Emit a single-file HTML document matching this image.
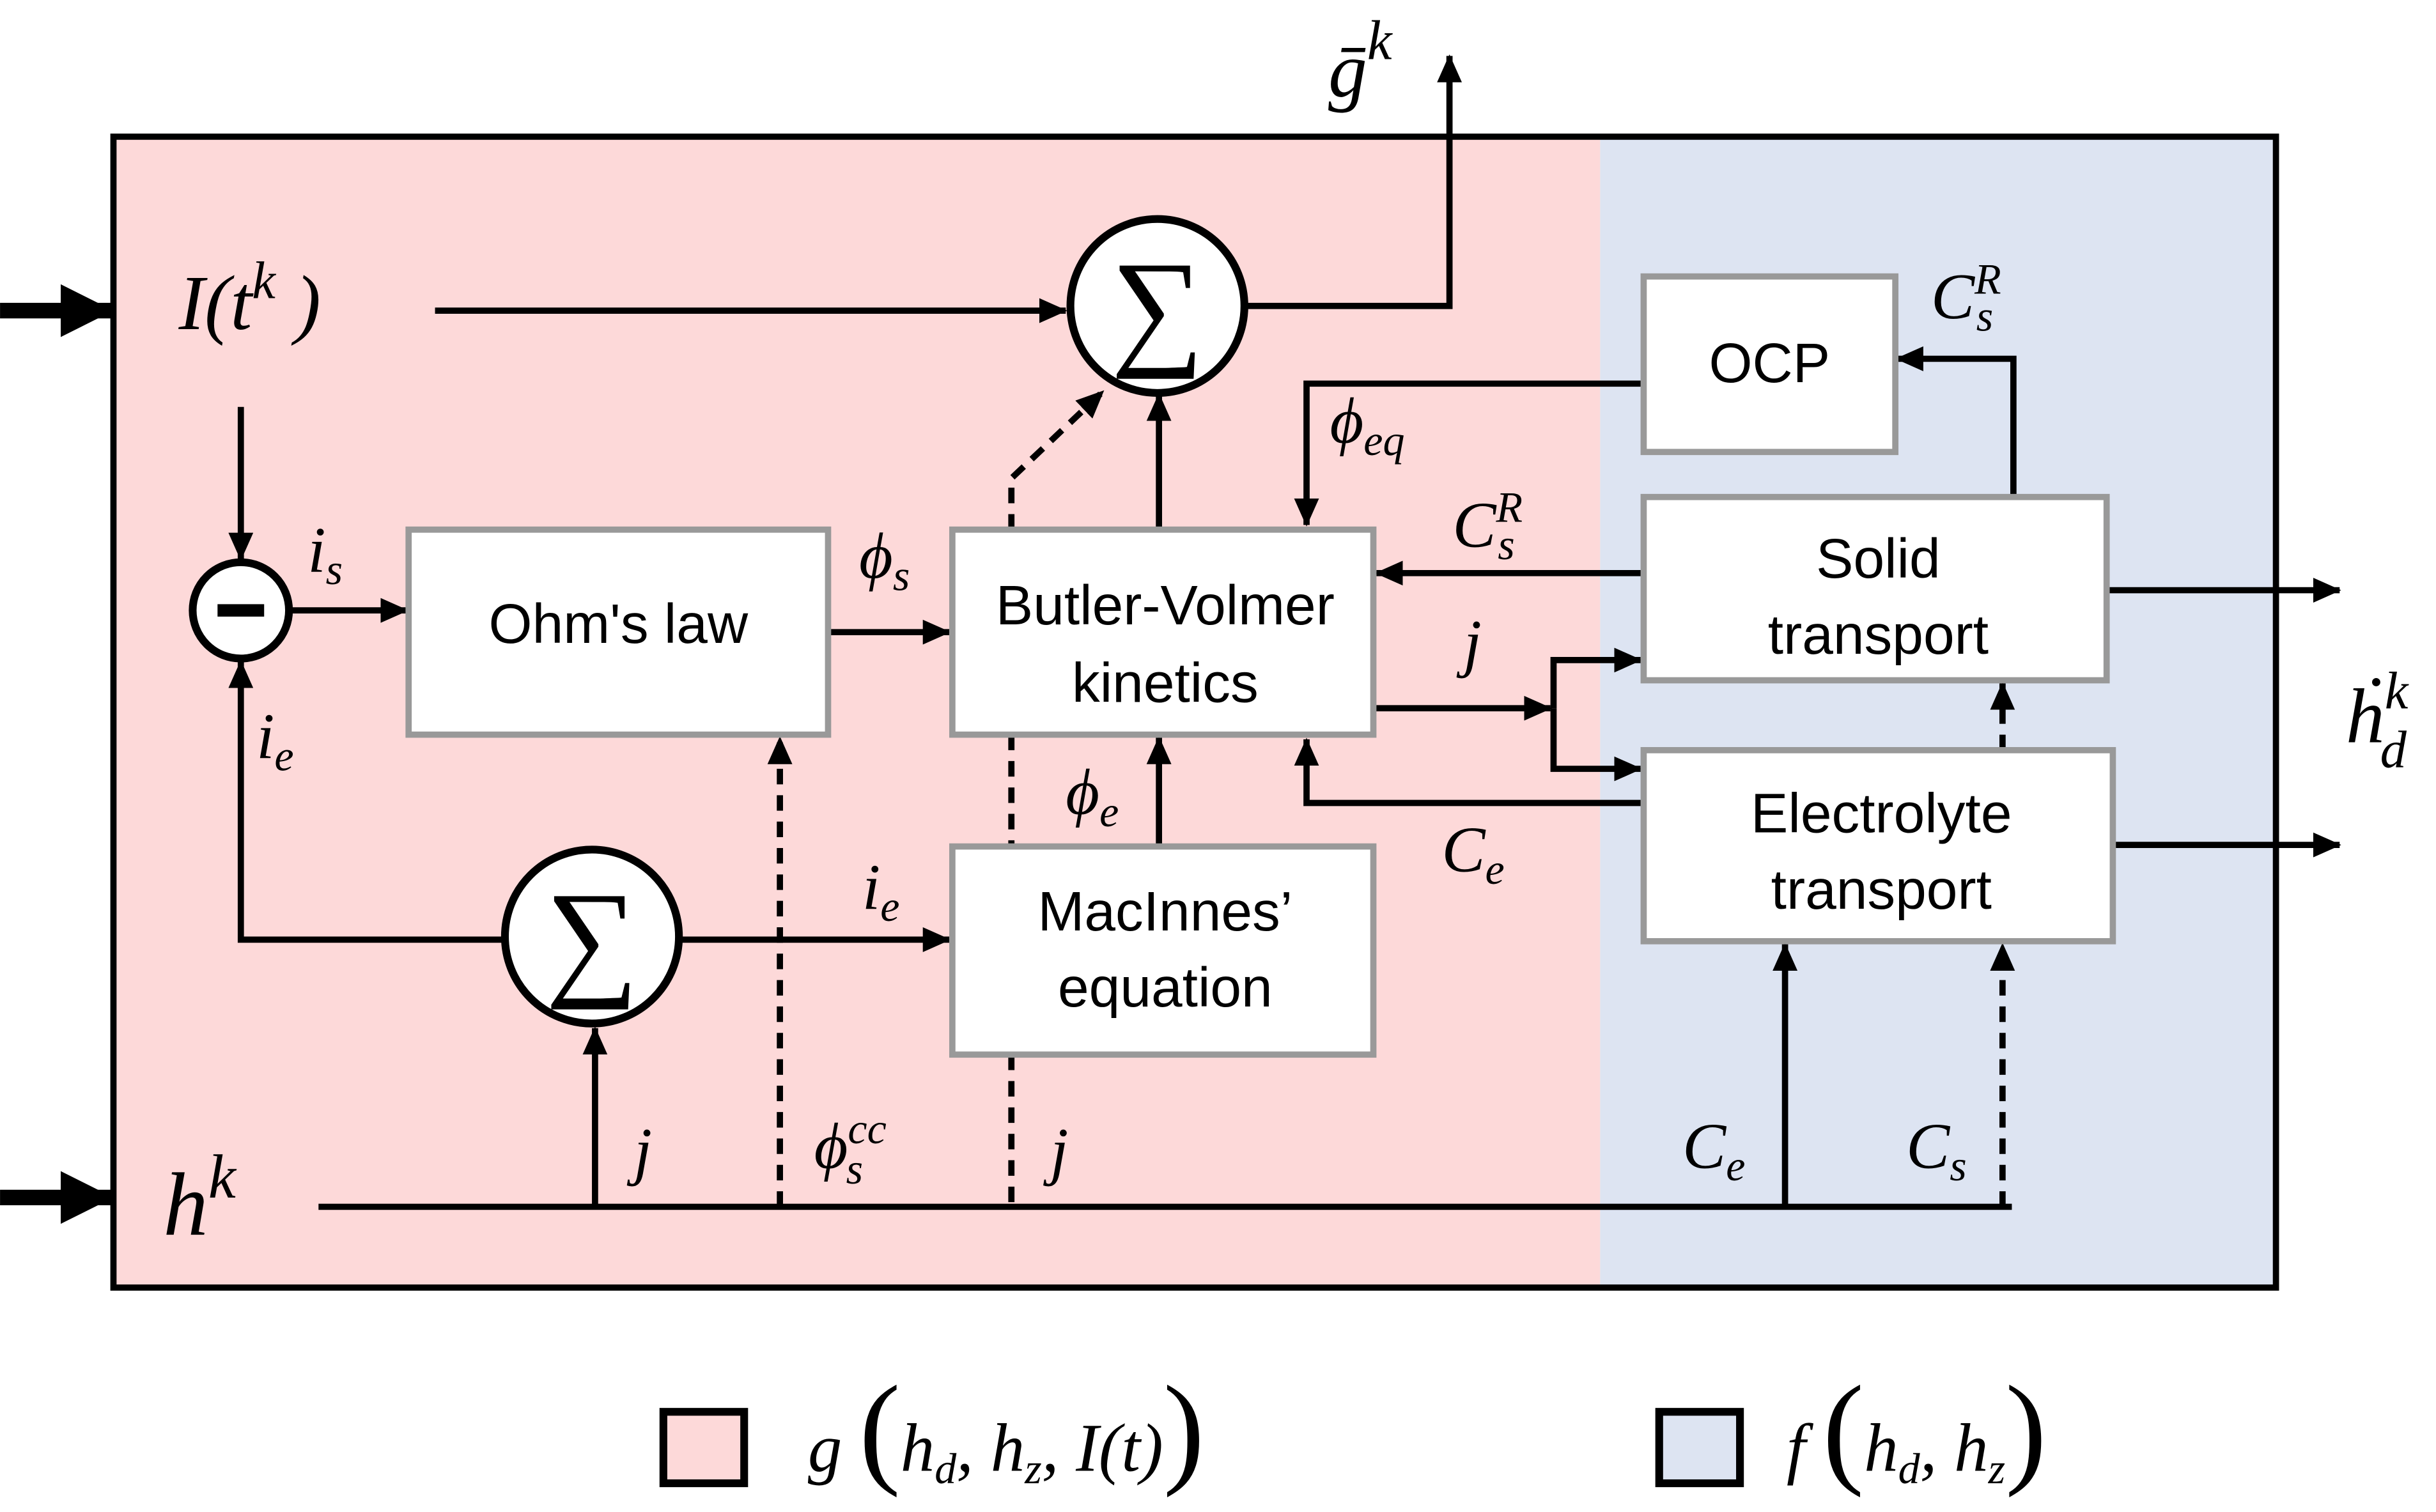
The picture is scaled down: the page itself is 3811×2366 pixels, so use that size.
<!DOCTYPE html>
<html><head><meta charset="utf-8"><style>
html,body{margin:0;padding:0;background:#fff;}
svg{display:block;}
.s{font-family:"Liberation Sans",sans-serif;font-size:36px;fill:#000;text-anchor:middle;}
.m{font-family:"Liberation Serif",serif;font-style:italic;font-size:42px;fill:#000;}
.sub{font-size:28px;}
</style></head><body>
<svg width="3811" height="2366" viewBox="0 0 1568 973.5" xmlns="http://www.w3.org/2000/svg">
<defs>
<marker id="A" markerWidth="18" markerHeight="16" refX="17" refY="8" orient="auto" markerUnits="userSpaceOnUse"><path d="M0,0 L18,8 L0,16 z" fill="#000"/></marker>
<marker id="B" markerWidth="34" markerHeight="34" refX="33" refY="17" orient="auto" markerUnits="userSpaceOnUse"><path d="M0,0 L34,17 L0,34 z" fill="#000"/></marker>
</defs>
<rect x="73" y="88" width="957" height="741" fill="#fdd9d9"/>
<rect x="1030" y="88" width="435" height="741" fill="#dde4f2"/>
<rect x="73" y="88" width="1392" height="741" fill="none" stroke="#000" stroke-width="4"/>
<line x1="0" y1="200" x2="72" y2="200" stroke="#000" stroke-width="10" marker-end="url(#B)"/>
<line x1="0" y1="771" x2="72" y2="771" stroke="#000" stroke-width="10" marker-end="url(#B)"/>
<g stroke="#000" stroke-width="4" fill="none">
<line x1="280" y1="200" x2="686" y2="200" marker-end="url(#A)"/>
<polyline points="802,197 933,197 933,36" marker-end="url(#A)"/>
<line x1="155" y1="262" x2="155" y2="360" marker-end="url(#A)"/>
<line x1="187" y1="393" x2="262" y2="393" marker-end="url(#A)"/>
<line x1="533" y1="407" x2="611" y2="407" marker-end="url(#A)"/>
<polyline points="324,605 155,605 155,426" marker-end="url(#A)"/>
<line x1="438" y1="605" x2="611" y2="605" marker-end="url(#A)"/>
<line x1="383" y1="777" x2="383" y2="662" marker-end="url(#A)"/>
<line x1="746" y1="341" x2="746" y2="254" marker-end="url(#A)"/>
<polyline points="651,341 651,308 710,252" stroke-dasharray="10,7" marker-end="url(#A)"/>
<line x1="651" y1="473" x2="651" y2="545" stroke-dasharray="10,7"/>
<line x1="651" y1="679" x2="651" y2="777" stroke-dasharray="10,7"/>
<line x1="746" y1="545" x2="746" y2="475" marker-end="url(#A)"/>
<line x1="502" y1="777" x2="502" y2="475" stroke-dasharray="10,7" marker-end="url(#A)"/>
<polyline points="1058,247 841,247 841,338" marker-end="url(#A)"/>
<line x1="1058" y1="369" x2="886" y2="369" marker-end="url(#A)"/>
<polyline points="1000,456 1000,425 1056,425" marker-end="url(#A)"/>
<line x1="884" y1="456" x2="998" y2="456" marker-end="url(#A)"/>
<polyline points="1000,456 1000,495 1056,495" marker-end="url(#A)"/>
<polyline points="1060,517 841,517 841,476" marker-end="url(#A)"/>
<polyline points="1296,320 1296,231 1221,231" marker-end="url(#A)"/>
<line x1="1356" y1="380" x2="1506" y2="380" marker-end="url(#A)"/>
<line x1="1360" y1="544" x2="1506" y2="544" marker-end="url(#A)"/>
<line x1="1289" y1="483" x2="1289" y2="440" stroke-dasharray="10,7" marker-end="url(#A)"/>
<line x1="1289" y1="777" x2="1289" y2="608" stroke-dasharray="10,7" marker-end="url(#A)"/>
<line x1="1149" y1="777" x2="1149" y2="608" marker-end="url(#A)"/>
<line x1="205" y1="777" x2="1295" y2="777"/>
</g>
<circle cx="745" cy="197" r="56" fill="#fff" stroke="#000" stroke-width="5"/>
<text x="745" y="226" class="s" style="font-family:'Liberation Serif',serif;font-size:84px">∑</text>
<circle cx="381" cy="603" r="56" fill="#fff" stroke="#000" stroke-width="5"/>
<text x="381" y="632" class="s" style="font-family:'Liberation Serif',serif;font-size:84px">∑</text>
<circle cx="155" cy="393" r="31" fill="#fff" stroke="#000" stroke-width="5"/>
<rect x="140" y="389" width="30" height="8" fill="#000"/>
<g fill="#fff" stroke="#999" stroke-width="4">
<rect x="1058" y="178" width="162" height="113"/>
<rect x="1058" y="320" width="298" height="118"/>
<rect x="1058" y="483" width="302" height="123"/>
<rect x="613" y="341" width="271" height="132"/>
<rect x="263" y="341" width="270" height="132"/>
<rect x="613" y="545" width="271" height="134"/>
</g>
<text x="1139" y="246" class="s">OCP</text>
<text x="1209" y="372" class="s">Solid</text>
<text x="1209" y="421" class="s">transport</text>
<text x="1211" y="536" class="s">Electrolyte</text>
<text x="1211" y="585" class="s">transport</text>
<text x="750" y="402" class="s">Butler-Volmer</text>
<text x="750" y="452" class="s">kinetics</text>
<text x="398" y="414" class="s">Ohm's law</text>
<text x="750" y="599" class="s">MacInnes’</text>
<text x="750" y="648" class="s">equation</text>
<text x="115" y="212" class="m" style="font-size:50px">I(t<tspan dy="-20" class="sub" style="font-size:34px">k</tspan><tspan dy="20"> )</tspan></text>
<text x="855" y="62" class="m" style="font-size:50px">ḡ<tspan dy="-24" style="font-size:36px">k</tspan></text>
<text x="105" y="795" class="m" style="font-size:58px">h<tspan dy="-24" style="font-size:40px">k</tspan></text>
<text x="198" y="368" class="m">i<tspan dy="8" class="sub">s</tspan></text>
<text x="165" y="488" class="m">i<tspan dy="8" class="sub">e</tspan></text>
<text x="553" y="372" class="m">ϕ<tspan dy="8" class="sub">s</tspan></text>
<text x="555" y="585" class="m">i<tspan dy="8" class="sub">e</tspan></text>
<text x="686" y="524" class="m">ϕ<tspan dy="8" class="sub">e</tspan></text>
<text x="856" y="285" class="m">ϕ<tspan dy="8" class="sub">eq</tspan></text>
<text x="935" y="352" class="m">C<tspan dy="-16" class="sub">R</tspan><tspan dx="-16" dy="24" class="sub">s</tspan></text>
<text x="1243" y="205" class="m">C<tspan dy="-16" class="sub">R</tspan><tspan dx="-16" dy="24" class="sub">s</tspan></text>
<text x="942" y="428" class="m">j</text>
<text x="928" y="561" class="m">C<tspan dy="8" class="sub">e</tspan></text>
<text x="408" y="755" class="m">j</text>
<text x="524" y="752" class="m">ϕ<tspan dy="-16" class="sub">cc</tspan><tspan dx="-26" dy="26" class="sub">s</tspan></text>
<text x="676" y="755" class="m">j</text>
<text x="1083" y="752" class="m">C<tspan dy="8" class="sub">e</tspan></text>
<text x="1227" y="752" class="m">C<tspan dy="8" class="sub">s</tspan></text>
<text x="1510" y="478" class="m" style="font-size:50px">ḣ<tspan dy="-22" style="font-size:34px">k</tspan><tspan dx="-18" dy="38" style="font-size:34px">d</tspan></text>
<rect x="427" y="909" width="52" height="46" fill="#fdd9d9" stroke="#000" stroke-width="5"/>
<text x="520" y="947" class="m" style="font-size:44px">g <tspan style="font-size:80px;font-style:normal">(</tspan>h<tspan dy="8" class="sub">d</tspan><tspan dy="-8">, h</tspan><tspan dy="8" class="sub">z</tspan><tspan dy="-8">, I(t)</tspan><tspan style="font-size:80px;font-style:normal">)</tspan></text>
<rect x="1068" y="909" width="52" height="46" fill="#dde4f2" stroke="#000" stroke-width="5"/>
<text x="1150" y="947" class="m" style="font-size:44px">f <tspan style="font-size:80px;font-style:normal">(</tspan>h<tspan dy="8" class="sub">d</tspan><tspan dy="-8">, h</tspan><tspan dy="8" class="sub">z</tspan><tspan dy="-8" style="font-size:80px;font-style:normal">)</tspan></text>
</svg>
</body></html>
